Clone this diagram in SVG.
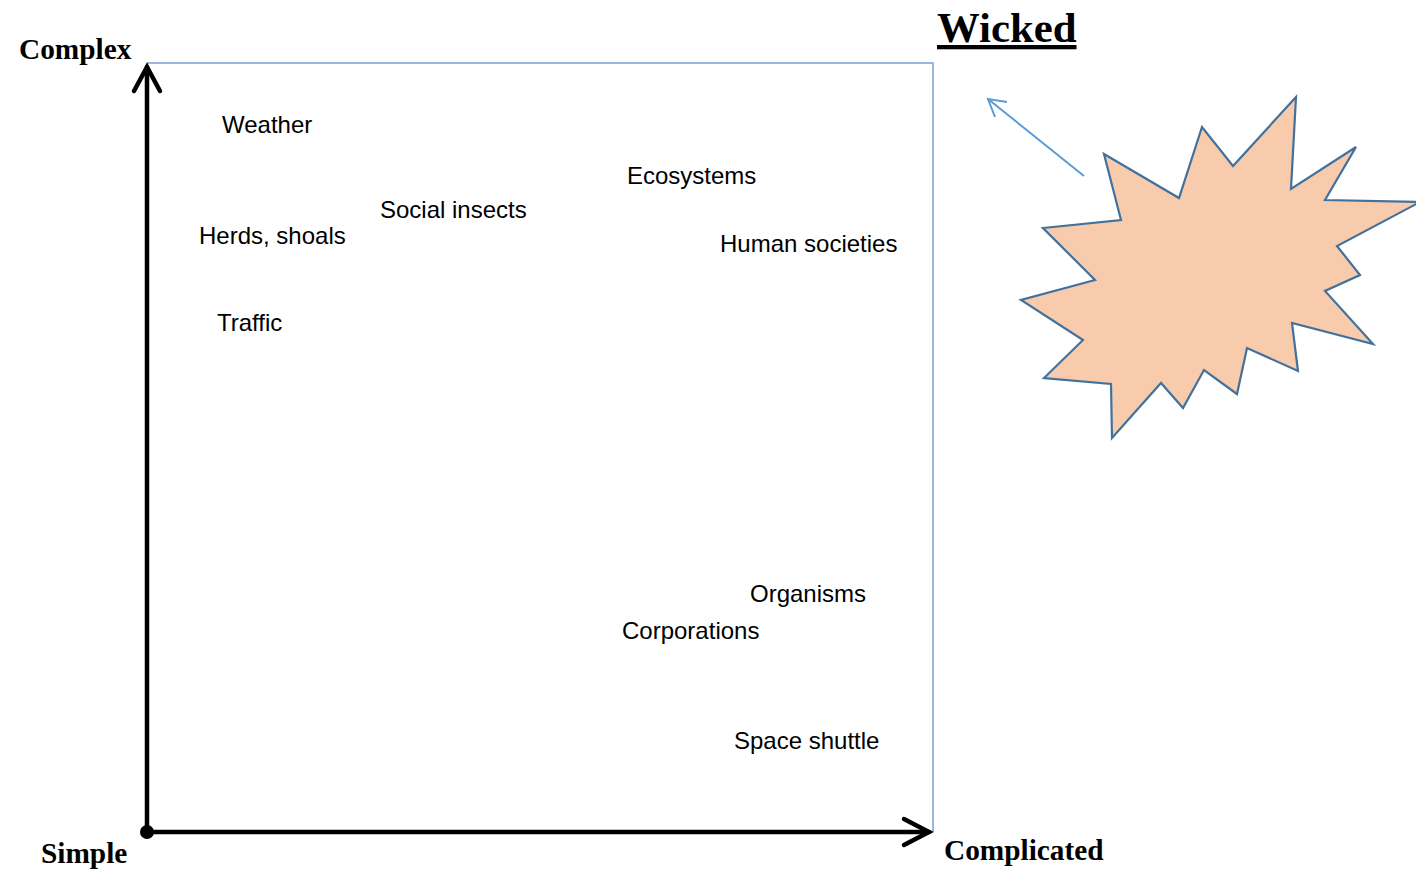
<svg xmlns="http://www.w3.org/2000/svg" width="1416" height="870" viewBox="0 0 1416 870">
<style>
.lbl{font-family:"Liberation Sans",Arial,sans-serif;font-size:24px;fill:#000}
.ax{font-family:"Liberation Serif","Times New Roman",serif;font-weight:bold;font-size:29.3px;fill:#000}
.axis{stroke:#000;stroke-width:4.5;fill:none;stroke-linecap:round;stroke-linejoin:miter}
</style>
<rect width="1416" height="870" fill="#fff"/>
<g id="frame">
<polyline points="147,63 933,63 933,832" fill="none" stroke="#7a9fd0" stroke-width="1.5"/>
</g>
<g id="connectors">
<line class="axis" x1="147" y1="832" x2="147" y2="67"/>
<polyline class="axis" points="134,91 147,67 160,91"/>
<line class="axis" x1="147" y1="832" x2="929" y2="832"/>
<polyline class="axis" points="904,819 929,832 904,845"/>
<circle cx="147" cy="832" r="7" fill="#000"/>
<line x1="1084" y1="176" x2="988" y2="99" stroke="#5b9bd5" stroke-width="2"/>
<polyline points="1007,102 988,99 995,117" fill="none" stroke="#5b9bd5" stroke-width="2"/>
</g>
<g id="axis-labels">
<text class="ax" x="19" y="59">Complex</text>
<text class="ax" x="41" y="863">Simple</text>
<text class="ax" x="944" y="860">Complicated</text>
</g>
<g id="wicked">
<text x="937" y="42" font-family="'Liberation Serif','Times New Roman',serif" font-weight="bold" font-size="42.8" text-decoration="underline">Wicked</text>
<polygon points="1104,154 1179,198 1202,127 1233,166 1296,97 1291,189 1356,147 1325,200 1420,202 1337,246 1360,275 1325,291 1373,344 1292,323 1298,371 1247,348 1237,394 1204,370 1183,408 1161,383 1112,438 1111,384 1044,378 1083,340 1021,300 1095,280 1043,228 1121,220" fill="#f7cbac" stroke="#41719c" stroke-width="2.2" stroke-linejoin="miter"/>
</g>
<g id="items">
<text class="lbl" x="222" y="133">Weather</text>
<text class="lbl" x="627" y="184">Ecosystems</text>
<text class="lbl" x="380" y="218">Social insects</text>
<text class="lbl" x="199" y="244">Herds, shoals</text>
<text class="lbl" x="720" y="252">Human societies</text>
<text class="lbl" x="217" y="331">Traffic</text>
<text class="lbl" x="750" y="602">Organisms</text>
<text class="lbl" x="622" y="639">Corporations</text>
<text class="lbl" x="734" y="749">Space shuttle</text>
</g>
</svg>
